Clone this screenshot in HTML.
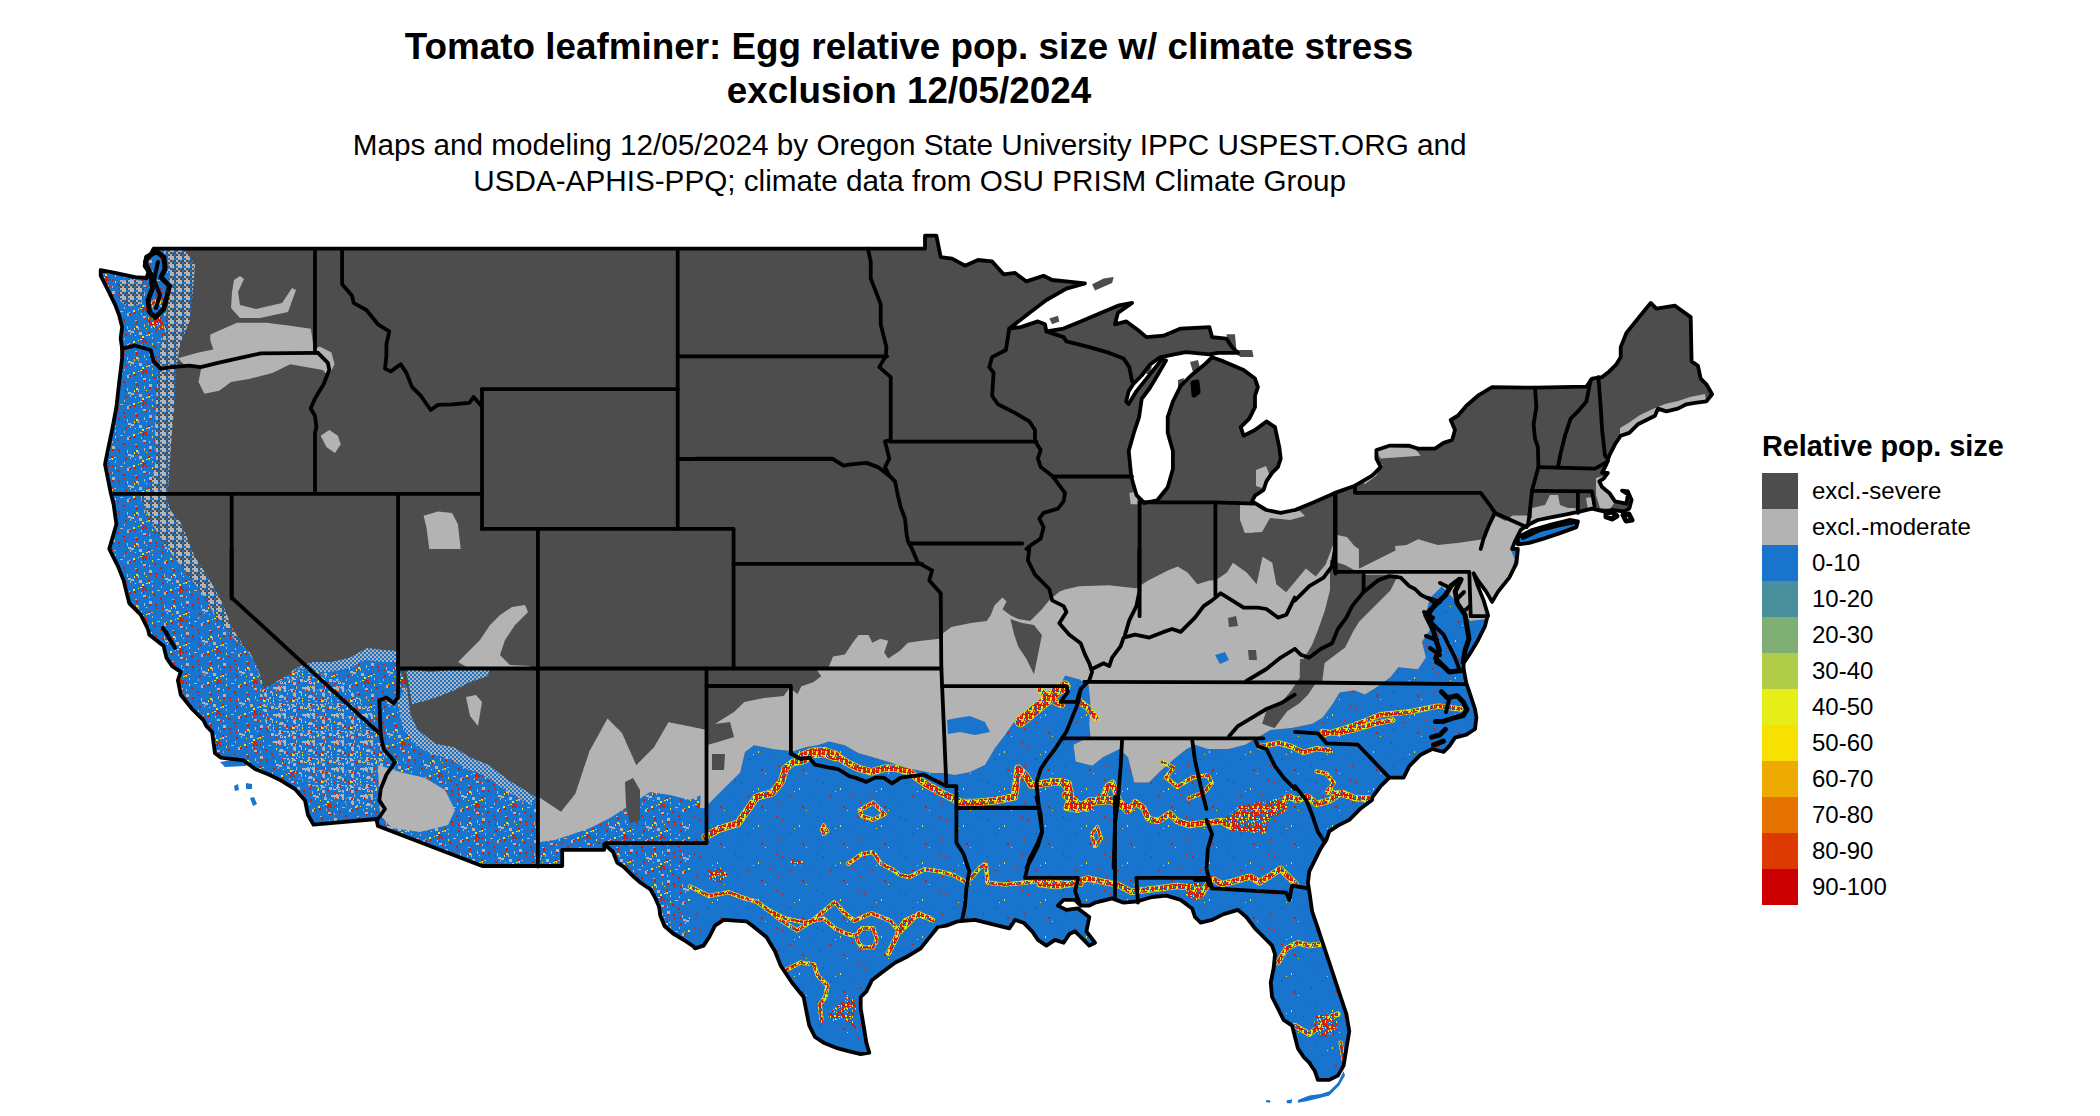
<!DOCTYPE html>
<html><head><meta charset="utf-8"><style>
html,body{margin:0;padding:0;background:#fff;}
body{width:2100px;height:1116px;position:relative;overflow:hidden;font-family:"Liberation Sans",sans-serif;}
</style></head><body>
<svg width="2100" height="1116" viewBox="0 0 2100 1116" style="position:absolute;left:0;top:0"><defs><pattern id="bspeck" width="37" height="31" patternUnits="userSpaceOnUse"><rect width="37" height="31" fill="#1874cd"/><rect x="8" y="18" width="1" height="2" fill="#d41a00"/><rect x="7" y="15" width="2" height="2" fill="#d41a00"/><rect x="24" y="25" width="1" height="1" fill="#d41a00"/><rect x="31" y="0" width="2" height="2" fill="#d41a00"/><rect x="0" y="22" width="2" height="2" fill="#d41a00"/><rect x="14" y="18" width="1" height="2" fill="#d41a00"/><rect x="1" y="0" width="1" height="2" fill="#d41a00"/><rect x="34" y="0" width="2" height="2" fill="#d41a00"/><rect x="13" y="13" width="2" height="1" fill="#d41a00"/><rect x="33" y="7" width="2" height="2" fill="#d41a00"/><rect x="35" y="7" width="2" height="1" fill="#d41a00"/><rect x="14" y="24" width="2" height="2" fill="#d41a00"/><rect x="1" y="13" width="2" height="2" fill="#d41a00"/><rect x="6" y="5" width="2" height="2" fill="#d41a00"/><rect x="18" y="3" width="2" height="2" fill="#d41a00"/><rect x="32" y="29" width="2" height="2" fill="#d41a00"/><rect x="12" y="9" width="2" height="2" fill="#d41a00"/><rect x="31" y="27" width="2" height="2" fill="#d41a00"/><rect x="2" y="15" width="1" height="2" fill="#d41a00"/><rect x="25" y="13" width="2" height="1" fill="#d41a00"/><rect x="23" y="17" width="2" height="2" fill="#d41a00"/><rect x="23" y="2" width="2" height="2" fill="#d41a00"/><rect x="32" y="3" width="1" height="2" fill="#d41a00"/><rect x="25" y="11" width="2" height="2" fill="#d41a00"/><rect x="1" y="15" width="1" height="2" fill="#d41a00"/><rect x="25" y="20" width="1" height="1" fill="#d41a00"/><rect x="32" y="7" width="1" height="1" fill="#d41a00"/><rect x="34" y="29" width="2" height="1" fill="#d41a00"/><rect x="25" y="16" width="2" height="2" fill="#e8e418"/><rect x="29" y="29" width="2" height="1" fill="#e8e418"/><rect x="24" y="25" width="1" height="1" fill="#e8e418"/><rect x="27" y="30" width="1" height="2" fill="#e8e418"/><rect x="23" y="18" width="1" height="2" fill="#e8e418"/><rect x="31" y="26" width="2" height="2" fill="#e8e418"/><rect x="22" y="0" width="2" height="2" fill="#e8e418"/><rect x="1" y="25" width="1" height="1" fill="#e8e418"/><rect x="35" y="18" width="1" height="1" fill="#e8e418"/><rect x="35" y="25" width="2" height="1" fill="#e8e418"/><rect x="4" y="2" width="1" height="2" fill="#e8e418"/><rect x="0" y="24" width="2" height="1" fill="#e8e418"/><rect x="17" y="3" width="1" height="2" fill="#e8e418"/><rect x="18" y="2" width="1" height="1" fill="#e8e418"/><rect x="16" y="16" width="1" height="3" fill="#b3b3b3"/><rect x="17" y="20" width="3" height="2" fill="#b3b3b3"/><rect x="29" y="22" width="2" height="2" fill="#b3b3b3"/><rect x="30" y="3" width="1" height="2" fill="#b3b3b3"/><rect x="24" y="10" width="2" height="1" fill="#b3b3b3"/><rect x="16" y="3" width="2" height="3" fill="#b3b3b3"/><rect x="32" y="6" width="3" height="2" fill="#b3b3b3"/><rect x="1" y="7" width="1" height="2" fill="#b3b3b3"/><rect x="9" y="1" width="3" height="1" fill="#b3b3b3"/><rect x="28" y="22" width="3" height="3" fill="#b3b3b3"/><rect x="27" y="17" width="1" height="3" fill="#b3b3b3"/><rect x="33" y="14" width="1" height="3" fill="#b3b3b3"/><rect x="1" y="12" width="3" height="3" fill="#b3b3b3"/><rect x="20" y="21" width="3" height="2" fill="#b3b3b3"/><rect x="3" y="23" width="2" height="1" fill="#b3b3b3"/><rect x="13" y="28" width="1" height="2" fill="#b3b3b3"/><rect x="4" y="27" width="1" height="2" fill="#b3b3b3"/><rect x="19" y="23" width="1" height="2" fill="#b3b3b3"/></pattern><pattern id="bspeck2" width="41" height="37" patternUnits="userSpaceOnUse"><rect width="41" height="37" fill="#1874cd"/><rect x="3" y="5" width="1" height="2" fill="#d41a00"/><rect x="10" y="19" width="2" height="1" fill="#d41a00"/><rect x="38" y="2" width="1" height="2" fill="#d41a00"/><rect x="40" y="25" width="2" height="2" fill="#d41a00"/><rect x="32" y="17" width="1" height="1" fill="#d41a00"/><rect x="23" y="29" width="2" height="2" fill="#d41a00"/><rect x="27" y="33" width="1" height="1" fill="#e8e418"/><rect x="15" y="14" width="1" height="1" fill="#e8e418"/><rect x="20" y="11" width="1" height="2" fill="#e8e418"/></pattern><pattern id="mixgbd" width="8" height="8" patternUnits="userSpaceOnUse"><rect x="0" y="0" width="2" height="2" fill="#b3b3b3"/><rect x="2" y="0" width="2" height="2" fill="#b3b3b3"/><rect x="4" y="0" width="2" height="2" fill="#b3b3b3"/><rect x="6" y="0" width="2" height="2" fill="#4d4d4d"/><rect x="0" y="2" width="2" height="2" fill="#1874cd"/><rect x="2" y="2" width="2" height="2" fill="#b3b3b3"/><rect x="4" y="2" width="2" height="2" fill="#b3b3b3"/><rect x="6" y="2" width="2" height="2" fill="#1874cd"/><rect x="0" y="4" width="2" height="2" fill="#b3b3b3"/><rect x="2" y="4" width="2" height="2" fill="#4d4d4d"/><rect x="4" y="4" width="2" height="2" fill="#1874cd"/><rect x="6" y="4" width="2" height="2" fill="#4d4d4d"/><rect x="0" y="6" width="2" height="2" fill="#4d4d4d"/><rect x="2" y="6" width="2" height="2" fill="#b3b3b3"/><rect x="4" y="6" width="2" height="2" fill="#4d4d4d"/><rect x="6" y="6" width="2" height="2" fill="#1874cd"/></pattern><pattern id="mixgb2" width="29" height="27" patternUnits="userSpaceOnUse"><rect width="29" height="27" fill="#1874cd"/><rect x="10" y="4" width="2" height="3" fill="#b3b3b3"/><rect x="1" y="2" width="3" height="1" fill="#b3b3b3"/><rect x="11" y="18" width="1" height="3" fill="#b3b3b3"/><rect x="6" y="1" width="1" height="2" fill="#b3b3b3"/><rect x="13" y="2" width="1" height="1" fill="#b3b3b3"/><rect x="17" y="13" width="1" height="3" fill="#b3b3b3"/><rect x="3" y="7" width="3" height="3" fill="#b3b3b3"/><rect x="18" y="1" width="3" height="3" fill="#b3b3b3"/><rect x="12" y="1" width="1" height="1" fill="#b3b3b3"/><rect x="17" y="4" width="2" height="2" fill="#b3b3b3"/><rect x="4" y="17" width="1" height="3" fill="#b3b3b3"/><rect x="9" y="17" width="3" height="1" fill="#b3b3b3"/><rect x="3" y="18" width="3" height="3" fill="#b3b3b3"/><rect x="6" y="11" width="1" height="3" fill="#b3b3b3"/><rect x="22" y="2" width="3" height="1" fill="#b3b3b3"/><rect x="19" y="6" width="2" height="3" fill="#b3b3b3"/><rect x="17" y="13" width="2" height="2" fill="#b3b3b3"/><rect x="18" y="14" width="2" height="2" fill="#b3b3b3"/><rect x="7" y="25" width="1" height="3" fill="#b3b3b3"/><rect x="24" y="7" width="1" height="3" fill="#b3b3b3"/><rect x="9" y="16" width="2" height="2" fill="#b3b3b3"/><rect x="23" y="14" width="2" height="3" fill="#b3b3b3"/><rect x="2" y="3" width="3" height="2" fill="#b3b3b3"/><rect x="5" y="24" width="2" height="1" fill="#b3b3b3"/><rect x="15" y="13" width="1" height="3" fill="#b3b3b3"/><rect x="2" y="24" width="3" height="3" fill="#b3b3b3"/><rect x="25" y="26" width="2" height="2" fill="#b3b3b3"/><rect x="22" y="11" width="3" height="2" fill="#b3b3b3"/><rect x="18" y="25" width="2" height="1" fill="#b3b3b3"/><rect x="26" y="2" width="2" height="2" fill="#b3b3b3"/><rect x="22" y="21" width="1" height="1" fill="#b3b3b3"/><rect x="23" y="22" width="2" height="3" fill="#b3b3b3"/><rect x="18" y="21" width="2" height="2" fill="#b3b3b3"/><rect x="22" y="12" width="3" height="2" fill="#b3b3b3"/><rect x="0" y="14" width="2" height="1" fill="#b3b3b3"/><rect x="19" y="3" width="2" height="1" fill="#b3b3b3"/><rect x="6" y="24" width="2" height="1" fill="#b3b3b3"/><rect x="23" y="7" width="2" height="2" fill="#b3b3b3"/><rect x="27" y="15" width="1" height="1" fill="#b3b3b3"/><rect x="14" y="12" width="3" height="2" fill="#b3b3b3"/><rect x="28" y="4" width="2" height="3" fill="#b3b3b3"/><rect x="8" y="22" width="2" height="2" fill="#b3b3b3"/><rect x="21" y="12" width="1" height="1" fill="#b3b3b3"/><rect x="2" y="5" width="1" height="1" fill="#b3b3b3"/><rect x="21" y="7" width="1" height="2" fill="#b3b3b3"/><rect x="26" y="18" width="1" height="2" fill="#b3b3b3"/><rect x="9" y="0" width="1" height="2" fill="#b3b3b3"/><rect x="17" y="11" width="3" height="3" fill="#b3b3b3"/><rect x="10" y="4" width="3" height="3" fill="#b3b3b3"/><rect x="19" y="20" width="3" height="3" fill="#b3b3b3"/><rect x="1" y="14" width="3" height="3" fill="#b3b3b3"/><rect x="12" y="12" width="2" height="2" fill="#b3b3b3"/><rect x="3" y="15" width="3" height="2" fill="#b3b3b3"/><rect x="1" y="6" width="1" height="1" fill="#b3b3b3"/><rect x="14" y="5" width="1" height="2" fill="#b3b3b3"/><rect x="19" y="1" width="1" height="1" fill="#b3b3b3"/><rect x="18" y="4" width="3" height="1" fill="#b3b3b3"/><rect x="11" y="19" width="1" height="1" fill="#b3b3b3"/><rect x="27" y="6" width="3" height="2" fill="#b3b3b3"/><rect x="4" y="20" width="2" height="2" fill="#b3b3b3"/><rect x="19" y="11" width="2" height="1" fill="#d41a00"/><rect x="3" y="15" width="2" height="2" fill="#d41a00"/><rect x="15" y="9" width="1" height="1" fill="#d41a00"/><rect x="3" y="23" width="2" height="2" fill="#d41a00"/><rect x="15" y="26" width="1" height="1" fill="#d41a00"/><rect x="6" y="16" width="2" height="1" fill="#d41a00"/><rect x="22" y="17" width="1" height="2" fill="#d41a00"/><rect x="20" y="2" width="2" height="2" fill="#d41a00"/><rect x="5" y="11" width="1" height="2" fill="#d41a00"/><rect x="20" y="7" width="1" height="1" fill="#d41a00"/><rect x="26" y="12" width="1" height="1" fill="#d41a00"/><rect x="16" y="15" width="2" height="1" fill="#d41a00"/><rect x="0" y="25" width="2" height="2" fill="#d41a00"/><rect x="8" y="6" width="2" height="2" fill="#d41a00"/><rect x="25" y="23" width="2" height="2" fill="#d41a00"/><rect x="2" y="7" width="1" height="1" fill="#d41a00"/><rect x="15" y="6" width="2" height="1" fill="#e8e418"/><rect x="15" y="19" width="1" height="2" fill="#e8e418"/><rect x="20" y="11" width="1" height="1" fill="#e8e418"/><rect x="12" y="25" width="1" height="2" fill="#e8e418"/><rect x="28" y="5" width="2" height="2" fill="#e8e418"/><rect x="2" y="25" width="2" height="2" fill="#e8e418"/><rect x="12" y="23" width="1" height="1" fill="#e8e418"/><rect x="5" y="4" width="1" height="1" fill="#e8e418"/></pattern><pattern id="rspeck2" width="11" height="11" patternUnits="userSpaceOnUse"><rect width="11" height="11" fill="#1874cd"/><rect x="3" y="4" width="1" height="2" fill="#d41a00"/><rect x="6" y="7" width="1" height="1" fill="#d41a00"/><rect x="1" y="0" width="2" height="2" fill="#d41a00"/><rect x="4" y="0" width="1" height="2" fill="#d41a00"/><rect x="8" y="5" width="2" height="1" fill="#d41a00"/><rect x="1" y="4" width="1" height="1" fill="#d41a00"/><rect x="10" y="4" width="2" height="1" fill="#d41a00"/><rect x="2" y="4" width="2" height="2" fill="#d41a00"/><rect x="5" y="1" width="2" height="2" fill="#d41a00"/><rect x="10" y="6" width="2" height="1" fill="#d41a00"/><rect x="2" y="3" width="2" height="2" fill="#d41a00"/><rect x="1" y="8" width="2" height="1" fill="#d41a00"/><rect x="4" y="9" width="2" height="2" fill="#d41a00"/><rect x="8" y="3" width="2" height="2" fill="#d41a00"/><rect x="9" y="4" width="2" height="2" fill="#d41a00"/><rect x="2" y="3" width="2" height="2" fill="#d41a00"/><rect x="0" y="1" width="1" height="2" fill="#d41a00"/><rect x="10" y="4" width="2" height="2" fill="#d41a00"/><rect x="10" y="7" width="2" height="2" fill="#d41a00"/><rect x="2" y="10" width="1" height="1" fill="#d41a00"/><rect x="6" y="3" width="2" height="2" fill="#d41a00"/><rect x="7" y="4" width="1" height="2" fill="#d41a00"/><rect x="6" y="9" width="2" height="2" fill="#d41a00"/><rect x="8" y="3" width="2" height="1" fill="#d41a00"/><rect x="0" y="3" width="2" height="2" fill="#d41a00"/><rect x="9" y="3" width="1" height="2" fill="#d41a00"/><rect x="2" y="4" width="2" height="1" fill="#d41a00"/><rect x="0" y="5" width="2" height="1" fill="#d41a00"/><rect x="4" y="10" width="2" height="1" fill="#d41a00"/><rect x="5" y="4" width="2" height="1" fill="#d41a00"/><rect x="10" y="6" width="1" height="2" fill="#e8e418"/><rect x="9" y="3" width="2" height="2" fill="#e8e418"/><rect x="2" y="4" width="2" height="1" fill="#e8e418"/><rect x="5" y="9" width="1" height="2" fill="#e8e418"/><rect x="0" y="7" width="1" height="2" fill="#e8e418"/><rect x="5" y="4" width="1" height="2" fill="#e8e418"/><rect x="3" y="6" width="1" height="1" fill="#e8e418"/><rect x="0" y="0" width="1" height="1" fill="#e8e418"/><rect x="9" y="10" width="1" height="1" fill="#e8e418"/><rect x="8" y="7" width="1" height="2" fill="#e8e418"/></pattern><pattern id="rspeck" width="9" height="9" patternUnits="userSpaceOnUse"><rect width="9" height="9" fill="#d41a00"/><rect x="3" y="8" width="1" height="2" fill="#e8e418"/><rect x="7" y="1" width="1" height="2" fill="#e8e418"/><rect x="4" y="8" width="1" height="1" fill="#e8e418"/><rect x="7" y="8" width="2" height="2" fill="#e8e418"/><rect x="2" y="3" width="1" height="2" fill="#e8e418"/><rect x="0" y="1" width="1" height="1" fill="#e8e418"/><rect x="4" y="0" width="2" height="2" fill="#e8e418"/><rect x="6" y="6" width="2" height="2" fill="#e8e418"/><rect x="2" y="5" width="1" height="1" fill="#e8e418"/><rect x="2" y="7" width="1" height="2" fill="#e8e418"/><rect x="6" y="4" width="2" height="2" fill="#e8e418"/><rect x="5" y="8" width="2" height="1" fill="#e8e418"/><rect x="5" y="0" width="2" height="1" fill="#e8e418"/><rect x="5" y="8" width="1" height="1" fill="#e8e418"/><rect x="4" y="4" width="1" height="1" fill="#1874cd"/><rect x="7" y="7" width="1" height="2" fill="#1874cd"/><rect x="1" y="6" width="1" height="1" fill="#1874cd"/><rect x="4" y="6" width="2" height="1" fill="#1874cd"/><rect x="0" y="0" width="2" height="2" fill="#1874cd"/><rect x="8" y="4" width="1" height="1" fill="#1874cd"/><rect x="4" y="0" width="1" height="1" fill="#7faf74"/><rect x="8" y="0" width="1" height="1" fill="#7faf74"/><rect x="4" y="4" width="1" height="1" fill="#7faf74"/></pattern><pattern id="mixgb" width="4" height="4" patternUnits="userSpaceOnUse"><rect width="4" height="4" fill="#b3b3b3"/><rect width="2" height="2" fill="#1874cd"/><rect x="2" y="2" width="2" height="2" fill="#1874cd"/></pattern><clipPath id="land"><path d="M109.3,548.9 L116.4,524.3 L113.6,504.3 L110.7,492.9 L107.9,478.6 L105,464.3 L107.9,450 L112.1,430 L116.4,407.1 L119.3,381.4 L122.1,358.6 L122.1,348.6 L120.7,338.6 L122.1,327.1 L119.3,315.7 L115,304.3 L107.9,290 L100.7,275.7 L100.7,270 L115,272.9 L135,277.1 L146.4,278 L149.3,270 L145,261.4 L149.3,257.1 L153.6,248.6 L695,248.6 L925,248.6 L925,235.7 L936.4,235.7 L940.7,257.1 L952.1,258.6 L965,265.7 L977.9,260 L992.1,261.4 L1003.6,274.3 L1015,272.9 L1026.4,281.4 L1043.6,275.7 L1052.1,280 L1066.4,281.4 L1085,283.4 L1066.4,288.6 L1046.4,300 L1029.3,312.9 L1009.3,328.6 L1020.7,327.1 L1037.9,321.4 L1045,324.3 L1046.4,331.4 L1063.6,328.6 L1080.7,321.4 L1100.7,312.9 L1117.9,305.7 L1132.1,302.9 L1117.9,312.9 L1115,324.3 L1126.4,321.4 L1137.9,330 L1146.4,337.1 L1163.6,335.7 L1180.7,328.6 L1209.3,327.1 L1212.1,337.1 L1226.4,338.6 L1232.1,347.1 L1237.9,352.9 L1217.9,352.9 L1209.3,354.3 L1185.9,352.1 L1172.9,354.7 L1159.9,357.3 L1149.5,365.1 L1141.7,375.5 L1133.9,383.3 L1128.7,391.1 L1126.1,401.5 L1128.7,404.1 L1136.5,391.1 L1146.9,378.1 L1157.3,365.1 L1162.5,358.5 L1166,360.5 L1157.3,375.5 L1149.5,388.5 L1141.7,398.9 L1139.1,417.1 L1133.9,432.7 L1128.7,450.9 L1131.3,476.9 L1136.5,495.1 L1144.3,502.9 L1157.3,500.3 L1167.7,487.3 L1172.9,469.1 L1172.9,450.9 L1167.7,432.7 L1167.7,417.1 L1172.9,401.5 L1180.7,385.9 L1191.1,375.5 L1204,365.1 L1211.9,357.3 L1223.6,361.4 L1243.6,370 L1255,378.6 L1257.9,387.1 L1255,395.7 L1255,407.1 L1249.3,418.6 L1240.7,427.1 L1243.6,435.7 L1255,430 L1266.4,421.4 L1275,427.1 L1279.3,447.1 L1280.7,458.6 L1277.9,467.1 L1272.1,472.9 L1266.4,481.4 L1263.6,490 L1255,495.7 L1252.1,501.4 L1266.4,510 L1280.7,512.9 L1294.7,510 L1295,510 L1312.1,502.9 L1335,492.9 L1355,485.7 L1372.1,475.7 L1380.7,467.1 L1376.4,458.6 L1376.4,450 L1389.3,445.7 L1409.3,445.7 L1417.9,448.6 L1435,448.6 L1443.6,442.9 L1452.1,440 L1455,430 L1450.7,420 L1457.9,415.7 L1466.4,405.7 L1477.9,395.7 L1492.1,387.1 L1535,387.7 L1586.4,386.6 L1592.1,378.6 L1602.1,377.1 L1609.3,371.4 L1616.4,364.3 L1620.7,357.1 L1620.7,347.1 L1626.4,332.9 L1637.9,318.6 L1650.7,302.9 L1656.4,308.6 L1675,305.7 L1690.7,317.1 L1691.6,361.4 L1697.9,365.7 L1700.7,378.6 L1706.4,384.3 L1712.1,394.3 L1706.4,401.4 L1695,402.9 L1686.4,404.3 L1677.9,408.6 L1666.4,411.4 L1657.9,408.6 L1655,415.7 L1637.9,424.3 L1629.3,432.9 L1620.7,435.7 L1615,444.3 L1609.3,455.7 L1606.4,464.3 L1602.1,472.9 L1607.9,472.9 L1603.6,478.6 L1599.3,481.4 L1602.1,487.1 L1609.3,492.9 L1615,501.4 L1626.4,503.7 L1627.9,494.3 L1622.1,490.6 L1627.9,491.4 L1631.6,500 L1629.3,508.6 L1623.6,511.4 L1612.1,510 L1603.6,511.4 L1592.1,508.6 L1580.7,511.4 L1566.4,514.3 L1552.1,517.1 L1537.9,520 L1526.4,525.7 L1520.7,530 L1515,541.4 L1512.1,548.9 L1517.9,549 L1516.4,563.3 L1509.3,577.6 L1497.9,591.9 L1492.1,601.9 L1486.4,591.9 L1477.9,580.4 L1473.6,573.3 L1477.9,586.1 L1483.6,600.4 L1487.9,614.7 L1485,626.1 L1477.9,640.4 L1469.3,654.7 L1463.6,663.3 L1463.6,669 L1466.4,683.3 L1469.3,691.9 L1475,709 L1476.4,717.6 L1475,729 L1466.4,734.7 L1455,737.6 L1449.3,746.1 L1443.6,751.9 L1432.1,749 L1420.7,754.7 L1409.3,766.1 L1403.6,777.6 L1389.3,777.6 L1380.7,786.1 L1372.1,797.6 L1372.1,799.9 L1360.7,808.4 L1349.3,819.9 L1337.9,825.6 L1329.3,831.3 L1326.4,839.9 L1320.7,848.4 L1315,859.9 L1309.3,871.3 L1307.9,882.7 L1309.3,891.3 L1312.1,911.3 L1317.9,928.4 L1323.6,945.6 L1329.3,962.7 L1335,979.9 L1340.7,997 L1346.4,1014.1 L1349.3,1031.3 L1346.4,1048.4 L1343.6,1065.6 L1337.9,1075.6 L1329.3,1079.9 L1317.9,1079.9 L1315,1071.3 L1309.3,1062.7 L1303.6,1057 L1297.9,1048.4 L1295,1037 L1292.1,1025.6 L1283.6,1019.9 L1277.9,1008.4 L1272.1,997 L1270.7,982.7 L1273.6,968.4 L1275,954.1 L1272.1,945.6 L1263.6,937 L1255,928.4 L1246.4,917 L1237.9,909.9 L1223.6,914.1 L1212.1,919.9 L1200.7,922.7 L1195,917 L1192.1,908.4 L1180.7,899.9 L1166.4,895.6 L1152.1,897 L1137.9,901.3 L1123.6,902.7 L1112.1,898.4 L1106.4,899.9 L1095,902.7 L1089.3,905.6 L1080.7,905.6 L1075,899.9 L1063.6,899.9 L1057.9,905.6 L1066.4,909.9 L1077.9,908.4 L1089.3,917 L1086.4,931.3 L1095,942.7 L1089.3,945.6 L1080.7,937 L1075,931.3 L1069.3,934.1 L1063.6,942.7 L1055,939.9 L1046.4,945.6 L1037.9,939.9 L1032.1,931.3 L1023.6,922.7 L1015,919.9 L1009.3,928.4 L992.1,924.1 L975,919.9 L957.9,921.3 L946.4,925.6 L937.9,927 L932.1,934.1 L920.7,948.4 L906.4,957 L895,962.7 L883.6,971.3 L872.1,979.9 L866.4,991.3 L860.7,997 L860.7,1008.4 L863.6,1025.6 L866.4,1042.7 L869.3,1052.7 L860.7,1054.1 L849.3,1051.3 L837.9,1048.4 L823.6,1042.7 L815,1037 L809.3,1025.6 L806.4,1011.3 L803.6,997 L792.1,982.7 L780.7,965.6 L775,951.3 L766.4,937 L752.1,925.6 L746.4,921.3 L723.6,919.9 L715,925.6 L709.3,937 L703.6,945.6 L695,948.4 L693.5,946.5 L683.9,940 L673.1,933.5 L664.5,926 L660.2,915.3 L659.1,906.7 L654.8,897 L650.5,889.5 L640.9,883 L632.3,875.5 L623.7,866.9 L617.2,862.6 L612.9,851.8 L604.3,844.3 L604.2,849.8 L562.2,849.8 L562.2,866 L537.4,866 L482.1,866 L377.9,826.1 L376.4,819 L313.6,824.7 L313.6,824.7 L307.9,814.7 L305,800.4 L295,789 L280.7,780.4 L269.3,774.7 L255,769 L243.6,760.4 L220.7,757.6 L215,753.3 L213.6,743.3 L212.1,731.9 L206.4,726.1 L203.6,720.4 L192.1,709 L180.7,694.7 L177.9,680.4 L180.7,671.9 L172.1,666.1 L166.4,657.6 L163.6,646.1 L149.3,634.7 L147.9,629 L140.7,614.7 L129.3,603.3 L126.4,591.9 L123.6,580.4 L117.9,566.1 L112.1,554.7 L109.3,549Z M1517.9,537.1 L1532.1,530 L1552.1,524.3 L1569.3,520 L1577.9,521.4 L1576.4,527.1 L1560.7,532.9 L1543.6,538.6 L1529.3,542.9 L1517.9,544.3Z"/></clipPath></defs><path d="M109.3,548.9 L116.4,524.3 L113.6,504.3 L110.7,492.9 L107.9,478.6 L105,464.3 L107.9,450 L112.1,430 L116.4,407.1 L119.3,381.4 L122.1,358.6 L122.1,348.6 L120.7,338.6 L122.1,327.1 L119.3,315.7 L115,304.3 L107.9,290 L100.7,275.7 L100.7,270 L115,272.9 L135,277.1 L146.4,278 L149.3,270 L145,261.4 L149.3,257.1 L153.6,248.6 L695,248.6 L925,248.6 L925,235.7 L936.4,235.7 L940.7,257.1 L952.1,258.6 L965,265.7 L977.9,260 L992.1,261.4 L1003.6,274.3 L1015,272.9 L1026.4,281.4 L1043.6,275.7 L1052.1,280 L1066.4,281.4 L1085,283.4 L1066.4,288.6 L1046.4,300 L1029.3,312.9 L1009.3,328.6 L1020.7,327.1 L1037.9,321.4 L1045,324.3 L1046.4,331.4 L1063.6,328.6 L1080.7,321.4 L1100.7,312.9 L1117.9,305.7 L1132.1,302.9 L1117.9,312.9 L1115,324.3 L1126.4,321.4 L1137.9,330 L1146.4,337.1 L1163.6,335.7 L1180.7,328.6 L1209.3,327.1 L1212.1,337.1 L1226.4,338.6 L1232.1,347.1 L1237.9,352.9 L1217.9,352.9 L1209.3,354.3 L1185.9,352.1 L1172.9,354.7 L1159.9,357.3 L1149.5,365.1 L1141.7,375.5 L1133.9,383.3 L1128.7,391.1 L1126.1,401.5 L1128.7,404.1 L1136.5,391.1 L1146.9,378.1 L1157.3,365.1 L1162.5,358.5 L1166,360.5 L1157.3,375.5 L1149.5,388.5 L1141.7,398.9 L1139.1,417.1 L1133.9,432.7 L1128.7,450.9 L1131.3,476.9 L1136.5,495.1 L1144.3,502.9 L1157.3,500.3 L1167.7,487.3 L1172.9,469.1 L1172.9,450.9 L1167.7,432.7 L1167.7,417.1 L1172.9,401.5 L1180.7,385.9 L1191.1,375.5 L1204,365.1 L1211.9,357.3 L1223.6,361.4 L1243.6,370 L1255,378.6 L1257.9,387.1 L1255,395.7 L1255,407.1 L1249.3,418.6 L1240.7,427.1 L1243.6,435.7 L1255,430 L1266.4,421.4 L1275,427.1 L1279.3,447.1 L1280.7,458.6 L1277.9,467.1 L1272.1,472.9 L1266.4,481.4 L1263.6,490 L1255,495.7 L1252.1,501.4 L1266.4,510 L1280.7,512.9 L1294.7,510 L1295,510 L1312.1,502.9 L1335,492.9 L1355,485.7 L1372.1,475.7 L1380.7,467.1 L1376.4,458.6 L1376.4,450 L1389.3,445.7 L1409.3,445.7 L1417.9,448.6 L1435,448.6 L1443.6,442.9 L1452.1,440 L1455,430 L1450.7,420 L1457.9,415.7 L1466.4,405.7 L1477.9,395.7 L1492.1,387.1 L1535,387.7 L1586.4,386.6 L1592.1,378.6 L1602.1,377.1 L1609.3,371.4 L1616.4,364.3 L1620.7,357.1 L1620.7,347.1 L1626.4,332.9 L1637.9,318.6 L1650.7,302.9 L1656.4,308.6 L1675,305.7 L1690.7,317.1 L1691.6,361.4 L1697.9,365.7 L1700.7,378.6 L1706.4,384.3 L1712.1,394.3 L1706.4,401.4 L1695,402.9 L1686.4,404.3 L1677.9,408.6 L1666.4,411.4 L1657.9,408.6 L1655,415.7 L1637.9,424.3 L1629.3,432.9 L1620.7,435.7 L1615,444.3 L1609.3,455.7 L1606.4,464.3 L1602.1,472.9 L1607.9,472.9 L1603.6,478.6 L1599.3,481.4 L1602.1,487.1 L1609.3,492.9 L1615,501.4 L1626.4,503.7 L1627.9,494.3 L1622.1,490.6 L1627.9,491.4 L1631.6,500 L1629.3,508.6 L1623.6,511.4 L1612.1,510 L1603.6,511.4 L1592.1,508.6 L1580.7,511.4 L1566.4,514.3 L1552.1,517.1 L1537.9,520 L1526.4,525.7 L1520.7,530 L1515,541.4 L1512.1,548.9 L1517.9,549 L1516.4,563.3 L1509.3,577.6 L1497.9,591.9 L1492.1,601.9 L1486.4,591.9 L1477.9,580.4 L1473.6,573.3 L1477.9,586.1 L1483.6,600.4 L1487.9,614.7 L1485,626.1 L1477.9,640.4 L1469.3,654.7 L1463.6,663.3 L1463.6,669 L1466.4,683.3 L1469.3,691.9 L1475,709 L1476.4,717.6 L1475,729 L1466.4,734.7 L1455,737.6 L1449.3,746.1 L1443.6,751.9 L1432.1,749 L1420.7,754.7 L1409.3,766.1 L1403.6,777.6 L1389.3,777.6 L1380.7,786.1 L1372.1,797.6 L1372.1,799.9 L1360.7,808.4 L1349.3,819.9 L1337.9,825.6 L1329.3,831.3 L1326.4,839.9 L1320.7,848.4 L1315,859.9 L1309.3,871.3 L1307.9,882.7 L1309.3,891.3 L1312.1,911.3 L1317.9,928.4 L1323.6,945.6 L1329.3,962.7 L1335,979.9 L1340.7,997 L1346.4,1014.1 L1349.3,1031.3 L1346.4,1048.4 L1343.6,1065.6 L1337.9,1075.6 L1329.3,1079.9 L1317.9,1079.9 L1315,1071.3 L1309.3,1062.7 L1303.6,1057 L1297.9,1048.4 L1295,1037 L1292.1,1025.6 L1283.6,1019.9 L1277.9,1008.4 L1272.1,997 L1270.7,982.7 L1273.6,968.4 L1275,954.1 L1272.1,945.6 L1263.6,937 L1255,928.4 L1246.4,917 L1237.9,909.9 L1223.6,914.1 L1212.1,919.9 L1200.7,922.7 L1195,917 L1192.1,908.4 L1180.7,899.9 L1166.4,895.6 L1152.1,897 L1137.9,901.3 L1123.6,902.7 L1112.1,898.4 L1106.4,899.9 L1095,902.7 L1089.3,905.6 L1080.7,905.6 L1075,899.9 L1063.6,899.9 L1057.9,905.6 L1066.4,909.9 L1077.9,908.4 L1089.3,917 L1086.4,931.3 L1095,942.7 L1089.3,945.6 L1080.7,937 L1075,931.3 L1069.3,934.1 L1063.6,942.7 L1055,939.9 L1046.4,945.6 L1037.9,939.9 L1032.1,931.3 L1023.6,922.7 L1015,919.9 L1009.3,928.4 L992.1,924.1 L975,919.9 L957.9,921.3 L946.4,925.6 L937.9,927 L932.1,934.1 L920.7,948.4 L906.4,957 L895,962.7 L883.6,971.3 L872.1,979.9 L866.4,991.3 L860.7,997 L860.7,1008.4 L863.6,1025.6 L866.4,1042.7 L869.3,1052.7 L860.7,1054.1 L849.3,1051.3 L837.9,1048.4 L823.6,1042.7 L815,1037 L809.3,1025.6 L806.4,1011.3 L803.6,997 L792.1,982.7 L780.7,965.6 L775,951.3 L766.4,937 L752.1,925.6 L746.4,921.3 L723.6,919.9 L715,925.6 L709.3,937 L703.6,945.6 L695,948.4 L693.5,946.5 L683.9,940 L673.1,933.5 L664.5,926 L660.2,915.3 L659.1,906.7 L654.8,897 L650.5,889.5 L640.9,883 L632.3,875.5 L623.7,866.9 L617.2,862.6 L612.9,851.8 L604.3,844.3 L604.2,849.8 L562.2,849.8 L562.2,866 L537.4,866 L482.1,866 L377.9,826.1 L376.4,819 L313.6,824.7 L313.6,824.7 L307.9,814.7 L305,800.4 L295,789 L280.7,780.4 L269.3,774.7 L255,769 L243.6,760.4 L220.7,757.6 L215,753.3 L213.6,743.3 L212.1,731.9 L206.4,726.1 L203.6,720.4 L192.1,709 L180.7,694.7 L177.9,680.4 L180.7,671.9 L172.1,666.1 L166.4,657.6 L163.6,646.1 L149.3,634.7 L147.9,629 L140.7,614.7 L129.3,603.3 L126.4,591.9 L123.6,580.4 L117.9,566.1 L112.1,554.7 L109.3,549Z" fill="#4d4d4d"/><path d="M1517.9,537.1 L1532.1,530 L1552.1,524.3 L1569.3,520 L1577.9,521.4 L1576.4,527.1 L1560.7,532.9 L1543.6,538.6 L1529.3,542.9 L1517.9,544.3Z" fill="#4d4d4d"/><path d="M1092.1,284.3 L1103.6,278.6 L1113.6,277.1 L1112.1,282.9 L1095,290.6Z" fill="#4d4d4d"/><path d="M1049.3,318.6 L1057.9,315.7 L1059.3,321.4 L1052.1,324.3Z" fill="#4d4d4d"/><path d="M1226.4,334.3 L1235,334.3 L1236.4,350 L1252.1,350 L1253.6,357.1 L1240.7,357.1 L1229.3,350Z" fill="#4d4d4d"/><path d="M1190,362 L1198,360 L1200,368 L1193,372Z" fill="#4d4d4d"/><path d="M1178,380 L1184,378 L1183,386 L1178,388Z" fill="#4d4d4d"/><path d="M1148,368 L1152,366 L1150,374 L1146,374Z" fill="#4d4d4d"/><path d="M220,762 L232,760 L248,762 L246,766 L225,767Z" fill="#1874cd"/><path d="M234,786 L238,784 L239,790 L235,791Z" fill="#1874cd"/><path d="M246,783 L252,784 L252,789 L246,789Z" fill="#1874cd"/><path d="M250,798 L254,797 L257,804 L253,806Z" fill="#1874cd"/><path d="M1266.4,1099.9 L1270.7,1100.4 L1269.9,1102.7 L1265.9,1102.1Z" fill="#1874cd"/><path d="M1286.4,1100.4 L1292.1,1099.3 L1291.6,1103.3 L1287,1103.3Z" fill="#1874cd"/><path d="M1297.9,1099.9 L1309.3,1095.6 L1320.7,1094.1 L1329.3,1091.3 L1337.9,1082.7 L1343.6,1071.3 L1345,1075.6 L1339.3,1085.6 L1329.3,1095.6 L1317.9,1098.4 L1306.4,1101.3 L1297.9,1102.7Z" fill="#1874cd"/><g clip-path="url(#land)"><path d="M80,230 L150,230 L150,240 L165,250 L170,270 L168,300 L165,330 L160,350 L158,370 L156,400 L155,430 L156,460 L150,490 L140,495 L150,520 L165,545 L181,566 L200,590 L212,610 L222,623 L235,640 L249.8,652 L258,670 L262,690 L265,709 L272,712 L280.7,691.9 L292.1,674.7 L300.7,666.1 L313.3,665.3 L331.3,665.3 L349.3,661.9 L367,651 L383.6,653.3 L399.3,654.7 L399.7,668.5 L406.8,686.4 L410.4,715 L417.6,729.4 L435.5,743.7 L453.4,747.3 L471.3,758.1 L489.3,765.2 L507.2,779.6 L525.1,790.3 L535.9,797.5 L539.4,797.5 L561,811.8 L575.3,793.9 L589.6,750.9 L607.5,718.6 L621.9,733 L636.2,765.2 L654.1,747.3 L668.5,722.2 L686.4,725.8 L704.3,729.4 L712,729 L712,1000 L0,1000 L0,230Z" fill="url(#bspeck)"/><path d="M1512.1,535.7 L1523.6,527.1 L1543.6,524.3 L1566.4,518.6 L1577.9,520 L1577.9,525.7 L1560.7,532.9 L1540.7,540 L1523.6,544.3 L1515,548.9 L1509.3,548.9Z" fill="url(#bspeck2)"/><path d="M1520,530 L1512.7,535.2 L1508.8,545.1 L1514.7,558.9 L1510.7,574.7 L1500.9,590.4 L1492,600 L1488,610 L1487,619 L1470,621 L1455,600 L1441.7,586.5 L1429.9,598.3 L1425.9,614.1 L1429.9,629.9 L1422,641.7 L1425.9,657.5 L1418,669.3 L1398.3,667.3 L1390.4,677.2 L1382.5,683.1 L1375.2,688.2 L1364.7,694.5 L1354.3,690.3 L1339.6,692.4 L1333.3,702.9 L1322.8,717.5 L1312.4,723.8 L1291.4,728 L1270.5,730.1 L1255.8,738.5 L1245.3,744.8 L1228.6,749 L1207.6,749 L1195,744.8 L1186.7,749 L1176.2,757.3 L1161.5,769.9 L1148.9,782.5 L1134.3,782.5 L1128,757.3 L1119.6,749 L1102.9,757.3 L1092.4,765.7 L1075.6,761.5 L1073.5,744.8 L1090.3,736.4 L1089.2,723.8 L1090.3,702.9 L1088.2,681.9 L1065.1,675.6 L1062,682 L1050,690 L1042,698 L1030,710 L1014,722 L1005,735 L995,748 L985,765 L970,772 L955,775 L943.4,772.9 L931.6,772.9 L911.8,768.9 L892.1,763 L872.4,757.1 L858.6,753.2 L844.8,745.3 L829,741.4 L817.2,745.3 L805.4,747.3 L793.6,751.2 L773.8,749.2 L754.1,745.3 L745,752 L740.2,772.4 L725.8,786.7 L704.3,808.2 L700,808 L690,808 L690,1200 L1800,1200 L1800,530Z" fill="url(#bspeck2)"/><path d="M170,240 L185,250 L195,265 L193,290 L190,320 L180,345 L176,370 L175,400 L172,430 L170,460 L168,490 L166.7,495 L170,510 L181,523 L195,557 L209.7,580 L221,600 L232.6,629 L244,646 L255.5,663 L262,680 L267,700 L272,715 L265,709 L262,690 L258,670 L249.8,652 L235,640 L222,623 L212,610 L200,590 L181,566 L165,545 L150,520 L140,495 L150,490 L156,460 L155,430 L156,400 L158,370 L160,350 L165,330 L168,300 L170,270 L165,250 L150,240Z" fill="url(#mixgbd)"/><path d="M290,672 L300,666 L313,662 L331,662 L349,658 L367,648 L383.6,650 L399.3,651 L399.3,662 L383,662 L365,660 L350,668 L330,672 L312,672 L300,676Z" fill="url(#mixgb)"/><path d="M406,669 L430,672 L450,670 L470,667 L490,667 L488,676 L470,682 L455,690 L440,696 L425,701 L412,704Z" fill="url(#mixgb)"/><path d="M406.8,686.4 L410.4,715 L417.6,729.4 L435.5,743.7 L453.4,747.3 L471.3,758.1 L489.3,765.2 L507.2,779.6 L525.1,790.3 L535.9,797.5 L530,805 L505,790 L485,776 L465,768 L448,758 L430,754 L412,742 L402,725 L398,700Z" fill="url(#mixgb)"/><path d="M118,282 L130,279 L142,281 L145,292 L140,304 L128,307 L119,300Z" fill="url(#mixgbd)"/><path d="M262,690 L300,668 L340,680 L370,710 L388,745 L385,790 L370,810 L330,800 L300,780 L275,750 L265,720Z" fill="url(#mixgb2)"/><path d="M320.7,435.7 L329.3,430 L337.9,435.7 L340.7,444.3 L335,452.9 L326.4,447.1Z" fill="#b3b3b3"/><path d="M423.6,515.7 L437.9,511.4 L452.1,512.9 L457.9,524.3 L460.7,548.9 L429.3,548.9 L426.4,527.1Z" fill="#b3b3b3"/><path d="M210.3,334.6 L236.9,322.8 L266.5,322.8 L290.2,325.7 L310.9,328.7 L313.8,349.4 L319.7,346.4 L331.5,352.4 L334.5,364.2 L328.6,376 L322.7,370.1 L290.2,364.2 L272.4,373.1 L248.8,379 L231,381.9 L219.2,390.8 L204.4,393.8 L198.5,381.9 L201.4,367.1 L183.7,364.2 L177.8,358.3 L198.5,352.4 L213.3,349.4 L210.3,340.5Z" fill="#b3b3b3"/><path d="M234,280 L240,276 L244,279 L238,292 L240,305 L256,309 L282,303 L292,288 L296,290 L288,312 L260,318 L240,318 L231,308 L232,292Z" fill="#b3b3b3"/><path d="M1129.3,492.9 L1136.4,491.4 L1137.9,504.3 L1130.7,504.3Z" fill="#b3b3b3"/><path d="M1376.4,451.4 L1389.3,447.1 L1415,448.6 L1420.7,455.7 L1380.7,458.6Z" fill="#b3b3b3"/><path d="M1495,515.7 L1515,525.7 L1520.7,532.9 L1512.1,548.9 L1489.3,548.9 L1486.4,532.9Z" fill="#b3b3b3"/><path d="M1532,508 L1545,505 L1550,495 L1558,495 L1560,505 L1568,508 L1575,508 L1578,512 L1579,517 L1560,520 L1545,522 L1532,524Z" fill="#b3b3b3"/><path d="M1586,498 L1592,497 L1594,508 L1588,510Z" fill="#b3b3b3"/><path d="M1596,478 L1603,476 L1606,486 L1612,493 L1615,502 L1610,509 L1600,508 L1596,495Z" fill="#b3b3b3"/><path d="M1620,428 L1630,422 L1640,415 L1655,408 L1665,404 L1678,401 L1690,397 L1705,394 L1706,401 L1690,404 L1678,408 L1666,411 L1655,415.7 L1638,424 L1629,433 L1620,436Z" fill="#b3b3b3"/><path d="M704.3,729.4 L706.8,729.5 L718.7,721.6 L734.4,711.8 L744.3,701.9 L764,698 L783.7,696 L789.6,688.1 L797.5,694 L801.4,686.2 L813.3,682.2 L821.2,676.3 L817.2,670.4 L829,666.4 L833,656.6 L844.8,654.6 L852.7,642.8 L858.6,634.9 L868.5,634.9 L872.4,642.8 L880.3,638.8 L888.2,640.8 L884.2,652.6 L888.2,658.6 L900,650.7 L907.9,642.8 L921.7,640.8 L939.4,638.8 L943.4,632.9 L951.3,627 L971,623.1 L986.7,621.1 L990.7,615.2 L994.6,605.3 L1002.5,597.5 L1006.5,601.4 L1002.5,609.3 L1010.4,615.2 L1018.3,619.1 L1030.1,621.1 L1041.9,609.3 L1049.8,599.4 L1059.7,591.5 L1065,589.6 L1079.1,586.3 L1108.7,585.3 L1136.3,588.3 L1148.1,580.4 L1167.9,570.5 L1177.7,566.6 L1187.6,572.5 L1197.4,584.3 L1209.3,580.4 L1215.2,580.4 L1227,572.5 L1232.9,562.7 L1246.7,572.5 L1256.6,584.3 L1262.5,556.7 L1272.3,562.7 L1276.3,584.3 L1286.1,592.2 L1296,580.4 L1305.9,568.6 L1315.7,576.5 L1325.6,564.6 L1331.5,548.9 L1337.2,535.2 L1358.9,549 L1358.9,568.7 L1394.4,551 L1418,539.2 L1437.8,545.1 L1457.5,543.1 L1483.1,539.2 L1496.9,527.3 L1512.7,515.5 L1526.5,515.5 L1535,520 L1520,530 L1512.7,535.2 L1508.8,545.1 L1514.7,558.9 L1510.7,574.7 L1500.9,590.4 L1492,600 L1488,610 L1487,619 L1470,621 L1455,600 L1441.7,586.5 L1429.9,598.3 L1425.9,614.1 L1429.9,629.9 L1422,641.7 L1425.9,657.5 L1418,669.3 L1398.3,667.3 L1390.4,677.2 L1382.5,683.1 L1375.2,688.2 L1364.7,694.5 L1354.3,690.3 L1339.6,692.4 L1333.3,702.9 L1322.8,717.5 L1312.4,723.8 L1291.4,728 L1270.5,730.1 L1255.8,738.5 L1245.3,744.8 L1228.6,749 L1207.6,749 L1195,744.8 L1186.7,749 L1176.2,757.3 L1161.5,769.9 L1148.9,782.5 L1134.3,782.5 L1128,757.3 L1119.6,749 L1102.9,757.3 L1092.4,765.7 L1075.6,761.5 L1073.5,744.8 L1090.3,736.4 L1089.2,723.8 L1090.3,702.9 L1088.2,681.9 L1065.1,675.6 L1062,682 L1050,690 L1042,698 L1030,710 L1014,722 L1005,735 L995,748 L985,765 L970,772 L955,775 L943.4,772.9 L931.6,772.9 L911.8,768.9 L892.1,763 L872.4,757.1 L858.6,753.2 L844.8,745.3 L829,741.4 L817.2,745.3 L805.4,747.3 L793.6,751.2 L773.8,749.2 L754.1,745.3 L745,752 L740.2,772.4 L725.8,786.7 L704.3,808.2 L700,808Z" fill="#b3b3b3"/><path d="M1241,505 L1257,508 L1258,520 L1252,533 L1244,532Z" fill="#b3b3b3"/><path d="M1337,535 L1347,537 L1356,548 L1357,566 L1345,560 L1338,548Z" fill="#b3b3b3"/><path d="M1395,546 L1420,544 L1420,566 L1398,566Z" fill="#b3b3b3"/><path d="M1362,481 L1372,474 L1379,466 L1383,464 L1376,476 L1365,484Z" fill="#b3b3b3"/><path d="M1240,505 L1252,503 L1262,510 L1275,513 L1290,512 L1300,511 L1305,516 L1290,520 L1270,518 L1262,532 L1245,533 L1240,520Z" fill="#b3b3b3"/><path d="M1256,470 L1266,466 L1270,476 L1262,488 L1256,486Z" fill="#b3b3b3"/><path d="M539.4,797.5 L561,811.8 L575.3,793.9 L589.6,750.9 L607.5,718.6 L621.9,733 L636.2,765.2 L654.1,747.3 L668.5,722.2 L686.4,725.8 L704.3,729.4 L712,729 L712,790 L690,800 L670,795 L650,792 L630,805 L610,818 L590,828 L570,835 L555,840 L540,842Z" fill="#b3b3b3"/><path d="M378,765 L400,772 L425,778 L445,790 L455,810 L448,825 L420,832 L392,828 L380,815Z" fill="#b3b3b3"/><path d="M458,662 L470,650 L480,640 L490,625 L500,615 L512,607 L525,605 L528,612 L515,625 L505,640 L500,655 L510,665 L530,666 L530,669 L470,669Z" fill="#b3b3b3"/><path d="M466,697 L476,695 L482,702 L478,726 L470,716Z" fill="#b3b3b3"/><path d="M1010.4,619.1 L1022.2,623.1 L1034,625 L1041.9,634.9 L1038,654.6 L1034,674.3 L1026.2,658.6 L1018.3,646.7 L1014.3,634.9Z" fill="#4d4d4d"/><path d="M707,725 L730,722 L734,737 L718,742 L707,745Z" fill="#4d4d4d"/><path d="M712,754 L725,754 L724,770 L712,770Z" fill="#4d4d4d"/><path d="M1330,560 L1345,565 L1362.8,574.7 L1398.3,574.7 L1390.4,590.4 L1378.6,602.3 L1366.8,614.1 L1358.9,622 L1353,631.8 L1345.1,647.6 L1335,655 L1322,665 L1310,672 L1300,665 L1312,645 L1318,630 L1325,610 L1330,590Z" fill="#4d4d4d"/><path d="M1299.8,663 L1318.6,658.9 L1322.8,667.2 L1316.5,681.9 L1308.2,694.5 L1299.8,702.9 L1287.2,711.2 L1274.6,728 L1262.1,723.8 L1266.3,711.2 L1281,702.9 L1291.4,690.3 L1299.8,677.7Z" fill="#4d4d4d"/><path d="M1300,659 L1325,660 L1322,683 L1302,683Z" fill="#4d4d4d"/><path d="M1228,618 L1236,616 L1238,626 L1229,627Z" fill="#4d4d4d"/><path d="M1248,650 L1256,650 L1257,660 L1249,660Z" fill="#4d4d4d"/><path d="M625,782 L633,778 L640,790 L640,820 L630,823 L626,805Z" fill="#4d4d4d"/><path d="M947,720 L957,718 L970,716 L985,722 L990,732 L975,735 L960,732 L948,734Z" fill="#1874cd"/><path d="M1215,655 L1225,652 L1229,660 L1220,664Z" fill="#1874cd"/><g fill="none" stroke-linejoin="round" stroke-linecap="round"><path d="M705.3,836.9 L718.6,829.2 L737.7,823.5 L747.3,810.2 L756.8,796.8 L772.1,793 L781.6,781.5 L785.4,768.2 L793.1,762.4 L804.5,760.5 L812.1,752.9 L823.6,751 L835,754.8 L846.5,762.4 L857.9,768.2 L871.3,772 L884.7,768.2 L896.1,768.2 L909.5,772 L924.7,783.4 L938.1,791.1 L949.5,796.8 L961,802.5 L976.3,802.5 L995.3,800.6 L1014.4,796.8 L1018.2,768.2 L1025.9,775.8 L1031.6,785.3 L1043.1,783.4 L1062.1,781.5 L1069.8,791.1 L1071.7,806.3 L1090,808.2" stroke="#e4e21e" stroke-width="7.5" stroke-dasharray="2 3"/><path d="M800,758 L812,753 L824,752 L835,756" stroke="#e4e21e" stroke-width="10.5" stroke-dasharray="2 3"/><path d="M848.4,863.6 L861.8,854 L873.2,852.1 L880.8,863.6 L892.3,869.3 L899.9,875 L909.5,877 L924.7,869.3 L938.1,871.2 L953.4,875 L966.7,882.7 L980.1,867.4 L985.8,863.6 L987.7,882.7 L1004.9,884.6 L1024,882.7 L1043.1,880.8 L1062.1,882.7 L1081.2,884.6" stroke="#e4e21e" stroke-width="4.5" stroke-dasharray="2 3"/><path d="M690,886.5 L709.1,896 L728.2,892.2 L743.4,897.9 L756.8,901.8 L770.2,911.3 L781.6,920.8 L796.9,930.4 L812.1,920.8 L823.6,911.3 L835,901.8 L842.7,911.3 L854.1,920.8 L871.3,913.2 L890.4,920.8 L899.9,932.3 L919,913.2 L934.3,920.8" stroke="#e4e21e" stroke-width="4.5" stroke-dasharray="2 3"/><path d="M766.3,909.1 L785.4,918.6 L804.5,922.4 L823.6,918.6 L835,928.2 L846.5,933.9 L856,935.8" stroke="#e4e21e" stroke-width="4.5" stroke-dasharray="2 3"/><path d="M859.8,810.2 L873.2,802.5 L884.7,814 L873.2,819.7 L861.8,815.9 L859.8,810.2" stroke="#e4e21e" stroke-width="4.5" stroke-dasharray="2 3"/><path d="M823.6,825.4 L827.4,831.1 L823.6,834 L821.7,829.2 L823.6,825.4" stroke="#e4e21e" stroke-width="4.0" stroke-dasharray="2 3"/><path d="M856,935.8 L861.8,928.2 L873.2,928.2 L877,939.6 L873.2,947.3 L861.8,947.3 L857.9,941.5 L856,935.8" stroke="#e4e21e" stroke-width="4.5" stroke-dasharray="2 3"/><path d="M888.5,953 L896.1,937.7 L899.9,928.2 L905.6,920.5 L919,914.8 L930.5,918.6" stroke="#e4e21e" stroke-width="5.5" stroke-dasharray="2 3"/><path d="M785.4,970.2 L800.7,962.5 L814,964.4 L817.9,975.9 L827.4,985.4 L825.5,996.9 L819.8,1004.5 L821.7,1021.7" stroke="#e4e21e" stroke-width="4.5" stroke-dasharray="2 3"/><path d="M1040,784.9 L1051.5,781.1 L1068.6,783 L1070.5,796.3 L1066.7,807.8 L1078.2,809.7 L1089.6,800.2 L1103,800.2 L1106.8,786.8 L1112.5,783 L1120.2,804 L1127.8,811.6 L1135.4,802.1 L1143.1,807.8 L1148.8,819.2 L1158.3,821.1 L1169.8,813.5 L1177.4,821.1 L1188.9,825 L1204.1,823.1 L1221.3,821.1 L1230.8,826.9 L1240.4,811.6 L1249.9,815.4 L1259.5,807.8 L1269,815.4 L1280.5,805.9 L1288.1,796.3 L1297.6,800.2 L1307.2,796.3 L1316.7,804 L1330.1,800.2 L1341.5,792.5 L1354.9,798.2 L1368.2,798.2" stroke="#e4e21e" stroke-width="6.5" stroke-dasharray="2 3"/><path d="M1066,795 L1080,806 L1095,801 L1110,800 L1125,806" stroke="#e4e21e" stroke-width="8.5" stroke-dasharray="2 3"/><path d="M1162.1,762 L1173.6,767.7 L1166,777.3 L1177.4,786.8 L1192.7,777.3 L1207.9,775.3 L1211.8,783 L1204.1,792.5 L1188.9,798.2" stroke="#e4e21e" stroke-width="4.5" stroke-dasharray="2 3"/><path d="M1097.3,826.9 L1101.1,838.3 L1095.3,846 L1091.5,834.5 L1097.3,826.9" stroke="#e4e21e" stroke-width="4.0" stroke-dasharray="2 3"/><path d="M1040,884.1 L1055.3,886 L1070.5,884.1 L1087.7,878.4 L1104.9,882.2 L1116.3,884.1 L1131.6,891.8 L1146.9,889.8 L1162.1,887.9 L1177.4,886 L1192.7,887.9 L1200.3,895.6 L1211.8,878.4 L1221.3,884.1 L1230.8,882.2 L1249.9,876.5 L1259.5,882.2 L1269,876.5 L1280.5,868.9 L1288.1,876.5 L1295.7,884.1" stroke="#e4e21e" stroke-width="6.5" stroke-dasharray="2 3"/><path d="M1316.7,771.5 L1326.3,773.4 L1333.9,783 L1326.3,792.5 L1337.7,792.5 L1345.3,796.3 L1360.6,798.2 L1368.2,802.1" stroke="#e4e21e" stroke-width="4.5" stroke-dasharray="2 3"/><path d="M1259.5,746.7 L1278.5,742.9 L1291.9,746.7 L1303.4,752.4 L1316.7,748.6 L1330.1,750.5" stroke="#e4e21e" stroke-width="5.5" stroke-dasharray="2 3"/><path d="M1322.4,731.5 L1337.7,733.4 L1354.9,729.5 L1374,723.8 L1393,720" stroke="#e4e21e" stroke-width="5.5" stroke-dasharray="2 3"/><path d="M1323.6,734.7 L1352.1,726.1 L1380.7,714.7 L1409.3,711.9 L1437.9,706.1 L1460.7,709" stroke="#e4e21e" stroke-width="5.5" stroke-dasharray="2 3"/><path d="M1020.3,721.6 L1030.1,713.8 L1041.9,703.9 L1049.8,698 L1057.7,690.1 L1065,686.2" stroke="#e4e21e" stroke-width="11.5" stroke-dasharray="2 3"/><path d="M1040,690 L1050,700 L1062,705" stroke="#e4e21e" stroke-width="6.5" stroke-dasharray="2 3"/><path d="M1078,700 L1088,708 L1096,718" stroke="#e4e21e" stroke-width="6.5" stroke-dasharray="2 3"/><path d="M1277.9,962.7 L1286.4,948.4 L1297.9,942.7 L1309.3,945.6 L1320.7,944.1" stroke="#e4e21e" stroke-width="5.5" stroke-dasharray="2 3"/><path d="M1295,1025.6 L1309.3,1034.1 L1320.7,1025.6 L1329.3,1017 L1337.9,1014.1" stroke="#e4e21e" stroke-width="5.5" stroke-dasharray="2 3"/><path d="M1340.7,1042.7 L1343.6,1059.9" stroke="#e4e21e" stroke-width="4.5" stroke-dasharray="2 3"/><path d="M150,305 L158,300 L165,308" stroke="#e4e21e" stroke-width="4.5" stroke-dasharray="2 3"/><path d="M709.1,871.2 L720.5,867.4 L728.2,875 L720.5,882.7 L709.1,878.9Z" fill="url(#rspeck2)"/><path d="M789.2,857.9 L804.5,861.7 L800.7,865.5 L791.1,863.6Z" fill="url(#rspeck2)"/><path d="M827.4,1014 L838.9,1004.5 L846.5,996.9 L854.1,996.9 L856,1008.3 L852.2,1019.8 L857.9,1031.2 L850.3,1023.6 L842.7,1017.9 L831.2,1021.7Z" fill="url(#rspeck2)"/><path d="M1223.2,819.2 L1238.5,805.9 L1259.5,802.1 L1278.5,798.2 L1288.1,800.2 L1286.2,811.6 L1269,819.2 L1265.2,834.5 L1249.9,832.6 L1230.8,830.7Z" fill="url(#rspeck2)"/><path d="M1185,884 L1200,882 L1204,895 L1195,901 L1186,895Z" fill="url(#rspeck2)"/><path d="M1315,1016 L1330,1013 L1338,1020 L1335,1035 L1322,1038 L1314,1028Z" fill="url(#rspeck2)"/><path d="M147,318 L154,315 L162,317 L164,327 L156,331 L149,327Z" fill="url(#rspeck2)"/><path d="M705.3,836.9 L718.6,829.2 L737.7,823.5 L747.3,810.2 L756.8,796.8 L772.1,793 L781.6,781.5 L785.4,768.2 L793.1,762.4 L804.5,760.5 L812.1,752.9 L823.6,751 L835,754.8 L846.5,762.4 L857.9,768.2 L871.3,772 L884.7,768.2 L896.1,768.2 L909.5,772 L924.7,783.4 L938.1,791.1 L949.5,796.8 L961,802.5 L976.3,802.5 L995.3,800.6 L1014.4,796.8 L1018.2,768.2 L1025.9,775.8 L1031.6,785.3 L1043.1,783.4 L1062.1,781.5 L1069.8,791.1 L1071.7,806.3 L1090,808.2" stroke="url(#rspeck)" stroke-width="6"/><path d="M800,758 L812,753 L824,752 L835,756" stroke="url(#rspeck)" stroke-width="9"/><path d="M848.4,863.6 L861.8,854 L873.2,852.1 L880.8,863.6 L892.3,869.3 L899.9,875 L909.5,877 L924.7,869.3 L938.1,871.2 L953.4,875 L966.7,882.7 L980.1,867.4 L985.8,863.6 L987.7,882.7 L1004.9,884.6 L1024,882.7 L1043.1,880.8 L1062.1,882.7 L1081.2,884.6" stroke="url(#rspeck)" stroke-width="3"/><path d="M690,886.5 L709.1,896 L728.2,892.2 L743.4,897.9 L756.8,901.8 L770.2,911.3 L781.6,920.8 L796.9,930.4 L812.1,920.8 L823.6,911.3 L835,901.8 L842.7,911.3 L854.1,920.8 L871.3,913.2 L890.4,920.8 L899.9,932.3 L919,913.2 L934.3,920.8" stroke="url(#rspeck)" stroke-width="3"/><path d="M766.3,909.1 L785.4,918.6 L804.5,922.4 L823.6,918.6 L835,928.2 L846.5,933.9 L856,935.8" stroke="url(#rspeck)" stroke-width="3"/><path d="M859.8,810.2 L873.2,802.5 L884.7,814 L873.2,819.7 L861.8,815.9 L859.8,810.2" stroke="url(#rspeck)" stroke-width="3"/><path d="M823.6,825.4 L827.4,831.1 L823.6,834 L821.7,829.2 L823.6,825.4" stroke="url(#rspeck)" stroke-width="2.5"/><path d="M856,935.8 L861.8,928.2 L873.2,928.2 L877,939.6 L873.2,947.3 L861.8,947.3 L857.9,941.5 L856,935.8" stroke="url(#rspeck)" stroke-width="3"/><path d="M888.5,953 L896.1,937.7 L899.9,928.2 L905.6,920.5 L919,914.8 L930.5,918.6" stroke="url(#rspeck)" stroke-width="4"/><path d="M785.4,970.2 L800.7,962.5 L814,964.4 L817.9,975.9 L827.4,985.4 L825.5,996.9 L819.8,1004.5 L821.7,1021.7" stroke="url(#rspeck)" stroke-width="3"/><path d="M1040,784.9 L1051.5,781.1 L1068.6,783 L1070.5,796.3 L1066.7,807.8 L1078.2,809.7 L1089.6,800.2 L1103,800.2 L1106.8,786.8 L1112.5,783 L1120.2,804 L1127.8,811.6 L1135.4,802.1 L1143.1,807.8 L1148.8,819.2 L1158.3,821.1 L1169.8,813.5 L1177.4,821.1 L1188.9,825 L1204.1,823.1 L1221.3,821.1 L1230.8,826.9 L1240.4,811.6 L1249.9,815.4 L1259.5,807.8 L1269,815.4 L1280.5,805.9 L1288.1,796.3 L1297.6,800.2 L1307.2,796.3 L1316.7,804 L1330.1,800.2 L1341.5,792.5 L1354.9,798.2 L1368.2,798.2" stroke="url(#rspeck)" stroke-width="5"/><path d="M1066,795 L1080,806 L1095,801 L1110,800 L1125,806" stroke="url(#rspeck)" stroke-width="7"/><path d="M1162.1,762 L1173.6,767.7 L1166,777.3 L1177.4,786.8 L1192.7,777.3 L1207.9,775.3 L1211.8,783 L1204.1,792.5 L1188.9,798.2" stroke="url(#rspeck)" stroke-width="3"/><path d="M1097.3,826.9 L1101.1,838.3 L1095.3,846 L1091.5,834.5 L1097.3,826.9" stroke="url(#rspeck)" stroke-width="2.5"/><path d="M1040,884.1 L1055.3,886 L1070.5,884.1 L1087.7,878.4 L1104.9,882.2 L1116.3,884.1 L1131.6,891.8 L1146.9,889.8 L1162.1,887.9 L1177.4,886 L1192.7,887.9 L1200.3,895.6 L1211.8,878.4 L1221.3,884.1 L1230.8,882.2 L1249.9,876.5 L1259.5,882.2 L1269,876.5 L1280.5,868.9 L1288.1,876.5 L1295.7,884.1" stroke="url(#rspeck)" stroke-width="5"/><path d="M1316.7,771.5 L1326.3,773.4 L1333.9,783 L1326.3,792.5 L1337.7,792.5 L1345.3,796.3 L1360.6,798.2 L1368.2,802.1" stroke="url(#rspeck)" stroke-width="3"/><path d="M1259.5,746.7 L1278.5,742.9 L1291.9,746.7 L1303.4,752.4 L1316.7,748.6 L1330.1,750.5" stroke="url(#rspeck)" stroke-width="4"/><path d="M1322.4,731.5 L1337.7,733.4 L1354.9,729.5 L1374,723.8 L1393,720" stroke="url(#rspeck)" stroke-width="4"/><path d="M1323.6,734.7 L1352.1,726.1 L1380.7,714.7 L1409.3,711.9 L1437.9,706.1 L1460.7,709" stroke="url(#rspeck)" stroke-width="4"/><path d="M1020.3,721.6 L1030.1,713.8 L1041.9,703.9 L1049.8,698 L1057.7,690.1 L1065,686.2" stroke="url(#rspeck)" stroke-width="10"/><path d="M1040,690 L1050,700 L1062,705" stroke="url(#rspeck)" stroke-width="5"/><path d="M1078,700 L1088,708 L1096,718" stroke="url(#rspeck)" stroke-width="5"/><path d="M1277.9,962.7 L1286.4,948.4 L1297.9,942.7 L1309.3,945.6 L1320.7,944.1" stroke="url(#rspeck)" stroke-width="4"/><path d="M1295,1025.6 L1309.3,1034.1 L1320.7,1025.6 L1329.3,1017 L1337.9,1014.1" stroke="url(#rspeck)" stroke-width="4"/><path d="M1340.7,1042.7 L1343.6,1059.9" stroke="url(#rspeck)" stroke-width="3"/><path d="M150,305 L158,300 L165,308" stroke="url(#rspeck)" stroke-width="3"/></g></g><g fill="none" stroke="#000" stroke-width="3.8" stroke-linejoin="round" stroke-linecap="round"><path d="M109.3,548.9 L116.4,524.3 L113.6,504.3 L110.7,492.9 L107.9,478.6 L105,464.3 L107.9,450 L112.1,430 L116.4,407.1 L119.3,381.4 L122.1,358.6 L122.1,348.6 L120.7,338.6 L122.1,327.1 L119.3,315.7 L115,304.3 L107.9,290 L100.7,275.7 L100.7,270 L115,272.9 L135,277.1 L146.4,278 L149.3,270 L145,261.4 L149.3,257.1 L153.6,248.6 L695,248.6 L925,248.6 L925,235.7 L936.4,235.7 L940.7,257.1 L952.1,258.6 L965,265.7 L977.9,260 L992.1,261.4 L1003.6,274.3 L1015,272.9 L1026.4,281.4 L1043.6,275.7 L1052.1,280 L1066.4,281.4 L1085,283.4 L1066.4,288.6 L1046.4,300 L1029.3,312.9 L1009.3,328.6 L1020.7,327.1 L1037.9,321.4 L1045,324.3 L1046.4,331.4 L1063.6,328.6 L1080.7,321.4 L1100.7,312.9 L1117.9,305.7 L1132.1,302.9 L1117.9,312.9 L1115,324.3 L1126.4,321.4 L1137.9,330 L1146.4,337.1 L1163.6,335.7 L1180.7,328.6 L1209.3,327.1 L1212.1,337.1 L1226.4,338.6 L1232.1,347.1 L1237.9,352.9 L1217.9,352.9 L1209.3,354.3 L1185.9,352.1 L1172.9,354.7 L1159.9,357.3 L1149.5,365.1 L1141.7,375.5 L1133.9,383.3 L1128.7,391.1 L1126.1,401.5 L1128.7,404.1 L1136.5,391.1 L1146.9,378.1 L1157.3,365.1 L1162.5,358.5 L1166,360.5 L1157.3,375.5 L1149.5,388.5 L1141.7,398.9 L1139.1,417.1 L1133.9,432.7 L1128.7,450.9 L1131.3,476.9 L1136.5,495.1 L1144.3,502.9 L1157.3,500.3 L1167.7,487.3 L1172.9,469.1 L1172.9,450.9 L1167.7,432.7 L1167.7,417.1 L1172.9,401.5 L1180.7,385.9 L1191.1,375.5 L1204,365.1 L1211.9,357.3 L1223.6,361.4 L1243.6,370 L1255,378.6 L1257.9,387.1 L1255,395.7 L1255,407.1 L1249.3,418.6 L1240.7,427.1 L1243.6,435.7 L1255,430 L1266.4,421.4 L1275,427.1 L1279.3,447.1 L1280.7,458.6 L1277.9,467.1 L1272.1,472.9 L1266.4,481.4 L1263.6,490 L1255,495.7 L1252.1,501.4 L1266.4,510 L1280.7,512.9 L1294.7,510 L1295,510 L1312.1,502.9 L1335,492.9 L1355,485.7 L1372.1,475.7 L1380.7,467.1 L1376.4,458.6 L1376.4,450 L1389.3,445.7 L1409.3,445.7 L1417.9,448.6 L1435,448.6 L1443.6,442.9 L1452.1,440 L1455,430 L1450.7,420 L1457.9,415.7 L1466.4,405.7 L1477.9,395.7 L1492.1,387.1 L1535,387.7 L1586.4,386.6 L1592.1,378.6 L1602.1,377.1 L1609.3,371.4 L1616.4,364.3 L1620.7,357.1 L1620.7,347.1 L1626.4,332.9 L1637.9,318.6 L1650.7,302.9 L1656.4,308.6 L1675,305.7 L1690.7,317.1 L1691.6,361.4 L1697.9,365.7 L1700.7,378.6 L1706.4,384.3 L1712.1,394.3 L1706.4,401.4 L1695,402.9 L1686.4,404.3 L1677.9,408.6 L1666.4,411.4 L1657.9,408.6 L1655,415.7 L1637.9,424.3 L1629.3,432.9 L1620.7,435.7 L1615,444.3 L1609.3,455.7 L1606.4,464.3 L1602.1,472.9 L1607.9,472.9 L1603.6,478.6 L1599.3,481.4 L1602.1,487.1 L1609.3,492.9 L1615,501.4 L1626.4,503.7 L1627.9,494.3 L1622.1,490.6 L1627.9,491.4 L1631.6,500 L1629.3,508.6 L1623.6,511.4 L1612.1,510 L1603.6,511.4 L1592.1,508.6 L1580.7,511.4 L1566.4,514.3 L1552.1,517.1 L1537.9,520 L1526.4,525.7 L1520.7,530 L1515,541.4 L1512.1,548.9 L1517.9,549 L1516.4,563.3 L1509.3,577.6 L1497.9,591.9 L1492.1,601.9 L1486.4,591.9 L1477.9,580.4 L1473.6,573.3 L1477.9,586.1 L1483.6,600.4 L1487.9,614.7 L1485,626.1 L1477.9,640.4 L1469.3,654.7 L1463.6,663.3 L1463.6,669 L1466.4,683.3 L1469.3,691.9 L1475,709 L1476.4,717.6 L1475,729 L1466.4,734.7 L1455,737.6 L1449.3,746.1 L1443.6,751.9 L1432.1,749 L1420.7,754.7 L1409.3,766.1 L1403.6,777.6 L1389.3,777.6 L1380.7,786.1 L1372.1,797.6 L1372.1,799.9 L1360.7,808.4 L1349.3,819.9 L1337.9,825.6 L1329.3,831.3 L1326.4,839.9 L1320.7,848.4 L1315,859.9 L1309.3,871.3 L1307.9,882.7 L1309.3,891.3 L1312.1,911.3 L1317.9,928.4 L1323.6,945.6 L1329.3,962.7 L1335,979.9 L1340.7,997 L1346.4,1014.1 L1349.3,1031.3 L1346.4,1048.4 L1343.6,1065.6 L1337.9,1075.6 L1329.3,1079.9 L1317.9,1079.9 L1315,1071.3 L1309.3,1062.7 L1303.6,1057 L1297.9,1048.4 L1295,1037 L1292.1,1025.6 L1283.6,1019.9 L1277.9,1008.4 L1272.1,997 L1270.7,982.7 L1273.6,968.4 L1275,954.1 L1272.1,945.6 L1263.6,937 L1255,928.4 L1246.4,917 L1237.9,909.9 L1223.6,914.1 L1212.1,919.9 L1200.7,922.7 L1195,917 L1192.1,908.4 L1180.7,899.9 L1166.4,895.6 L1152.1,897 L1137.9,901.3 L1123.6,902.7 L1112.1,898.4 L1106.4,899.9 L1095,902.7 L1089.3,905.6 L1080.7,905.6 L1075,899.9 L1063.6,899.9 L1057.9,905.6 L1066.4,909.9 L1077.9,908.4 L1089.3,917 L1086.4,931.3 L1095,942.7 L1089.3,945.6 L1080.7,937 L1075,931.3 L1069.3,934.1 L1063.6,942.7 L1055,939.9 L1046.4,945.6 L1037.9,939.9 L1032.1,931.3 L1023.6,922.7 L1015,919.9 L1009.3,928.4 L992.1,924.1 L975,919.9 L957.9,921.3 L946.4,925.6 L937.9,927 L932.1,934.1 L920.7,948.4 L906.4,957 L895,962.7 L883.6,971.3 L872.1,979.9 L866.4,991.3 L860.7,997 L860.7,1008.4 L863.6,1025.6 L866.4,1042.7 L869.3,1052.7 L860.7,1054.1 L849.3,1051.3 L837.9,1048.4 L823.6,1042.7 L815,1037 L809.3,1025.6 L806.4,1011.3 L803.6,997 L792.1,982.7 L780.7,965.6 L775,951.3 L766.4,937 L752.1,925.6 L746.4,921.3 L723.6,919.9 L715,925.6 L709.3,937 L703.6,945.6 L695,948.4 L693.5,946.5 L683.9,940 L673.1,933.5 L664.5,926 L660.2,915.3 L659.1,906.7 L654.8,897 L650.5,889.5 L640.9,883 L632.3,875.5 L623.7,866.9 L617.2,862.6 L612.9,851.8 L604.3,844.3 L604.2,849.8 L562.2,849.8 L562.2,866 L537.4,866 L482.1,866 L377.9,826.1 L376.4,819 L313.6,824.7 L313.6,824.7 L307.9,814.7 L305,800.4 L295,789 L280.7,780.4 L269.3,774.7 L255,769 L243.6,760.4 L220.7,757.6 L215,753.3 L213.6,743.3 L212.1,731.9 L206.4,726.1 L203.6,720.4 L192.1,709 L180.7,694.7 L177.9,680.4 L180.7,671.9 L172.1,666.1 L166.4,657.6 L163.6,646.1 L149.3,634.7 L147.9,629 L140.7,614.7 L129.3,603.3 L126.4,591.9 L123.6,580.4 L117.9,566.1 L112.1,554.7 L109.3,549Z"/><path d="M1517.9,537.1 L1532.1,530 L1552.1,524.3 L1569.3,520 L1577.9,521.4 L1576.4,527.1 L1560.7,532.9 L1543.6,538.6 L1529.3,542.9 L1517.9,544.3Z"/><path d="M122.1,348.6 L135,345.7 L150.7,350 L153.6,361.4 L160.7,368.6 L172.1,367.1 L189.3,365.7 L200.7,367.1 L217.9,362.9 L243.6,357.1 L260.7,353.4 L317.9,352.9"/><path d="M315,248.6 L315,352.9"/><path d="M317.9,352.9 L327.9,362.9 L329.3,370 L323.6,384.3 L315,398.6 L310.7,408.6 L315,415.7 L316.4,427.1 L315,432.9 L315,492.3"/><path d="M342.1,248.6 L342.1,284.3 L352.1,295.7 L353.6,302.9 L366.4,310 L377.9,324.3 L389.3,331.4 L386.4,344.3 L386.4,355.7 L385,368.6 L390.7,371.4 L400.7,364.3 L406.4,372.9 L412.1,387.1 L420.7,395.7 L430.7,410 L437.9,404.9 L452.1,404.3 L469.3,402.9 L473.6,397.1 L481.3,405.7"/><path d="M1046.4,331.4 L1063.6,337.1 L1066.4,341.4 L1089.3,347.1 L1109.3,352.9 L1123.6,358.6 L1129.3,367.1 L1132.1,381.4"/><path d="M867.9,248.6 L870.7,261.4 L870.7,278.6 L876.4,292.9 L880.7,304.3 L880.7,324.3 L883.6,335.7 L886.4,347.1 L885.9,355.7 L879.3,367.1 L890.7,377.1 L890.7,440 L885,441.4 L889.3,458.6 L885,467.1 L889.3,475.7 L895,481.4 L897.9,495.7 L900.7,507.1 L905,518.6 L906.4,532.9 L907.9,541.4 L912.1,548.9"/><path d="M695,458.6 L832.1,458.6 L843.6,465.7 L850.7,464.3 L866.4,462.9 L877.9,467.1 L889.3,475.7"/><path d="M1009.3,328.6 L1005.9,350 L992.1,357.1 L989.3,367.1 L993.6,372.9 L992.1,395.7 L997.9,404.3 L1015,412.9 L1029.3,421.4 L1035,430 L1035,440.9 L1040.7,450 L1037.9,458.6 L1040.7,467.1 L1052.1,475.7 L1060.7,487.1 L1065,492.9 L1063.6,501.4 L1057.9,508.6 L1043.6,512.9 L1039.3,518.6 L1043.6,527.1 L1040.7,538.6 L1032.1,544.3 L1026.4,548.9"/><path d="M1355,485.7 L1355,492.9 L1480.7,492.9 L1489.3,504.3 L1495,512.9"/><path d="M1335,492.9 L1335,548.9"/><path d="M1495,512.9 L1526.4,527.1"/><path d="M1495,512.9 L1489.3,524.3 L1483.6,538.6 L1480.7,548.9"/><path d="M1535,387.7 L1536.4,407.1 L1533.6,424.3 L1535,438.6 L1537.9,447.1 L1538.4,467.1 L1532.1,490 L1529.3,515.7 L1527.9,525.7"/><path d="M1590.7,380 L1586.4,401.4 L1577.9,411.4 L1570.7,418.6 L1565,435.7 L1560.7,452.9 L1557.9,467.1"/><path d="M1598.4,377.1 L1600.7,407.1 L1602.1,430 L1605,455.7 L1607.9,458.6"/><path d="M1538.4,467.1 L1595,468.6 L1607.9,461.4"/><path d="M1532.1,490.9 L1592.1,491.4 L1594.4,505.7"/><path d="M1577.9,491.4 L1577.9,512.9"/><path d="M231.6,549 L231.6,597.6 L380.7,734.7 L383.6,749 L395,761.9 L386.4,774.7 L380.7,789 L379.3,800.4 L385,809 L377.9,819"/><path d="M380.7,734.7 L379.3,700.4 L386.4,697.6 L393.6,703.3 L397.9,697.6 L398.4,667.6"/><path d="M912.1,549 L917.9,562.7 L932.1,570.4 L929.3,580.4 L940.7,593.3 L941.3,666.7 L942.1,686.1 L943.6,720.4 L946.4,786.1 L956.4,786.1 L956.4,807.6 L1035,807.6"/><path d="M790.7,753.3 L800.7,759 L809.3,757.6 L815,764.7 L829.3,767.6 L837.9,769 L849.3,776.1 L855,777.6 L866.4,781.9 L875,777.6 L883.6,777.6 L892.1,783.3 L900.7,777.6 L912.1,776.1 L923.6,774.7 L935,780.4 L946.4,786.1"/><path d="M1029.3,549 L1027.9,560.4 L1035,574.7 L1049.3,589 L1052.1,600.4 L1063.6,606.1 L1066.4,611.9 L1059.3,623.3 L1069.3,634.7 L1080.7,643.3 L1085,654.7 L1089.3,663.3 L1092.1,671.9 L1089.3,680.4 L1080.7,689 L1077.9,703.3 L1072.1,717.6 L1066.4,731.9 L1060.7,740.4 L1055,749 L1046.4,760.4 L1040.7,769 L1036.4,783.3 L1037.9,797.6 L1039.3,811.9 L1042.1,831.9 L1037.9,846.1 L1032.1,857.6 L1026.4,867.9"/><path d="M942.1,686.1 L1066.4,686.1 L1067.9,691.9 L1060.7,701.9 L1076.4,701.9 L1080.7,689"/><path d="M1092.1,669 L1103.6,663.3 L1109.3,666.1 L1112.1,657.6 L1120.7,646.1 L1123.6,637.6 L1135,634.7 L1149.3,637.6 L1163.6,631.9 L1172.1,629 L1180.7,631.9 L1195,617.6 L1203.6,606.1 L1212.1,600.4 L1220.7,593.3 L1232.1,600.4 L1243.6,607.6 L1257.9,607.6 L1266.4,609 L1277.9,617.6 L1286.4,614.7 L1294.7,597.6"/><path d="M1139.3,549 L1139.3,591.9 L1136.4,606.1 L1129.3,620.4 L1125,634.7"/><path d="M1246.4,681 L1266.4,669 L1280.7,657.6 L1294.7,649"/><path d="M1229.3,736.1 L1237.9,726.1 L1252.1,717.6 L1266.4,709 L1280.7,703.3 L1294.7,694.7"/><path d="M1122.1,739 L1120.7,766.1 L1117.9,800.4 L1115,823.3 L1113.6,867.9"/><path d="M1192.1,739 L1195,760.4 L1200.7,786.1 L1206.4,809"/><path d="M1255,739 L1257.9,746.1 L1266.4,749 L1275,766.1 L1283.6,777.6 L1294.7,789"/><path d="M1335,549 L1335,571.9 L1469.3,571.9 L1470.7,616.1 L1487.9,616.1"/><path d="M1363.6,571.9 L1363.6,591.9 L1377.9,580.4 L1389.3,576.1 L1400.7,577.6 L1409.3,586.1 L1415,589 L1420.7,594.7 L1429.3,599 L1435,603.3 L1429.3,614.7 L1432.1,623.3 L1443.6,634.7 L1449.3,646.1 L1455,657.6 L1459.3,669"/><path d="M1363.6,591.9 L1352.1,606.1 L1346.4,617.6 L1337.9,629 L1332.1,643.3 L1320.7,649 L1309.3,657.6 L1300.7,654.7 L1295,649"/><path d="M1335,549 L1332.1,566.1 L1323.6,577.6 L1309.3,586.1 L1295,600.4"/><path d="M1295,731.9 L1317.9,733.3 L1326.4,743.3 L1357.9,744.7 L1389.3,777.6"/><path d="M1295,786.1 L1306.4,800.4 L1312.1,814.7 L1317.9,831.9 L1323.6,840.4"/><path d="M956.4,807.6 L956.4,842.7 L963.6,854.1 L969.3,871.3 L966.4,888.4 L965,905.6 L962.1,919.9"/><path d="M1036.4,797 L1040.7,814.1 L1042.1,831.3 L1037.9,842.7 L1029.3,859.9 L1025,877.9 L1077.9,877.9 L1077.9,879.9 L1075,891.3 L1080.7,905.6"/><path d="M1115,797 L1115,898.4"/><path d="M1136.4,877.9 L1206.4,877.9 L1209.3,885.6"/><path d="M1136.4,877.9 L1137.9,902.7"/><path d="M1206.4,819.9 L1212.1,834.1 L1207.9,848.4 L1206.4,868.4 L1209.3,879.9 L1212.1,888.4"/><path d="M1195,879.9 L1209.3,879.9 L1212.1,888.4 L1286.4,892.7 L1289.3,899.9 L1292.1,885.6 L1307.9,888.4"/><path d="M482,389.2 L677.7,389.2"/><path d="M231.7,493.9 L231.7,598.7"/><path d="M677.7,249.5 L677.7,528.9"/><path d="M677.7,356.3 L887.1,356.3"/><path d="M677.7,459 L832.9,459"/><path d="M482,528.9 L733.6,528.9 L733.6,668.5"/><path d="M733.6,563.8 L922.1,563.8"/><path d="M482,389.2 L482,528.9"/><path d="M114.3,493.9 L482,493.9"/><path d="M398.1,493.9 L398.1,668.5"/><path d="M398.1,668.5 L941.4,668.5"/><path d="M537.9,528.9 L537.9,866.5"/><path d="M706.5,668.5 L706.5,843.1"/><path d="M706.5,686 L790.9,686 L790.9,753.7"/><path d="M605.8,843.1 L706.5,843.1"/><path d="M890.2,441.6 L1036.4,441.6"/><path d="M1052.6,476.5 L1132,476.5"/><path d="M909.2,543.5 L1022.2,543.5"/><path d="M957.6,808.2 L1038.4,808.2"/><path d="M1084.5,681.8 L1303.2,682.5 L1465.6,684.2"/><path d="M1062.2,738.4 L1229.4,738.4 L1263.5,738.4"/><path d="M1139.6,502.3 L1215.4,502.3 L1253.7,503.7"/><path d="M1215.4,502.3 L1215.4,595.2"/><path d="M1139.6,502.3 L1139.6,616.2"/><path d="M1335.6,493.9 L1335.6,573.5"/><path d="M1459.2,579.4 L1451.3,585.4 L1445.4,595.2 L1435.5,605.1 L1425.6,614.9 L1429.6,622.8 L1433.5,630.7 L1435.5,638.6 L1439.4,650.4 L1435.5,658.3 L1443.4,666.2 L1449.3,672.1 L1463.1,670.2" stroke-width="5"/><path d="M1461.1,579.4 L1455.2,591.3 L1457.2,603.1 L1465.1,614.9 L1467,626.8 L1469,638.6 L1465.1,650.4 L1463.1,662.3" stroke-width="5"/><path d="M1450,588 L1440,583" stroke-width="4"/><path d="M1440,602 L1428,598" stroke-width="4"/><path d="M1433,618 L1424,612" stroke-width="4"/><path d="M1437,640 L1426,636" stroke-width="4"/><path d="M1440,655 L1430,648" stroke-width="4"/><path d="M1446,668 L1436,662" stroke-width="4"/><path d="M1458,598 L1464,592" stroke-width="4"/><path d="M1463,612 L1470,606" stroke-width="4"/><path d="M1441.4,691.8 L1447.3,697.8 L1457.2,695.8 L1463.1,701.7 L1467,709.6 L1463.1,715.5 L1455.2,717.5 L1443.4,721.4 L1435.5,721.4" stroke-width="5"/><path d="M1445.4,729.3 L1439.4,735.2 L1431.6,737.2" stroke-width="5"/><path d="M1443.4,741.1 L1433.5,745.1" stroke-width="5"/><path d="M1449,700 L1446,712" stroke-width="4"/><path d="M156.6,251.5 L163.8,257.2 L165.2,268.7 L160.9,277.3 L169.5,285.9 L166.7,297.3 L163.8,308.8 L155.2,317.4 L149.5,311.7 L148,300.2 L152.3,288.7 L150.9,274.4 L145.2,265.8 L146.6,257.2 L156.6,251.5Z" stroke-width="5"/><path d="M158,262 L154,280 L160,295 L156,308" stroke-width="4"/><path d="M163,628 L168,636 L175,648 L170,640 L166,632" stroke-width="4"/><path d="M1523,538 L1540,530 L1560,525 L1576,522" stroke-width="4"/><path d="M1606,513 L1612,512 L1617,516 L1612,519 L1606,517Z" stroke-width="5"/><path d="M1623,515 L1629,514 L1632,520 L1626,521Z" stroke-width="5"/><path d="M1193,383 L1197,382 L1198,392 L1194,395Z" stroke-width="5"/></g><g font-family="Liberation Sans, sans-serif" fill="#000"><text x="909.0" y="58.8" font-size="36.83" font-weight="bold" text-anchor="middle">Tomato leafminer: Egg relative pop. size w/ climate stress</text><text x="909.0" y="102.9" font-size="36.83" font-weight="bold" text-anchor="middle">exclusion 12/05/2024</text><text x="909.6" y="155" font-size="29.7" text-anchor="middle">Maps and modeling 12/05/2024 by Oregon State University IPPC USPEST.ORG and</text><text x="909.6" y="190.6" font-size="29.7" text-anchor="middle">USDA-APHIS-PPQ; climate data from OSU PRISM Climate Group</text><text x="1762" y="456" font-size="28.8" font-weight="bold">Relative pop. size</text><rect x="1762" y="473" width="36" height="36" fill="#4d4d4d"/><text x="1812" y="498.9" font-size="24.0">excl.-severe</text><rect x="1762" y="509" width="36" height="36" fill="#b3b3b3"/><text x="1812" y="534.9" font-size="24.0">excl.-moderate</text><rect x="1762" y="545" width="36" height="36" fill="#1874cd"/><text x="1812" y="570.9" font-size="24.0">0-10</text><rect x="1762" y="581" width="36" height="36" fill="#4a8f9c"/><text x="1812" y="606.9" font-size="24.0">10-20</text><rect x="1762" y="617" width="36" height="36" fill="#7faf74"/><text x="1812" y="642.9" font-size="24.0">20-30</text><rect x="1762" y="653" width="36" height="36" fill="#b0cc48"/><text x="1812" y="678.9" font-size="24.0">30-40</text><rect x="1762" y="689" width="36" height="36" fill="#e6ee1a"/><text x="1812" y="714.9" font-size="24.0">40-50</text><rect x="1762" y="725" width="36" height="36" fill="#f8e000"/><text x="1812" y="750.9" font-size="24.0">50-60</text><rect x="1762" y="761" width="36" height="36" fill="#eeaa00"/><text x="1812" y="786.9" font-size="24.0">60-70</text><rect x="1762" y="797" width="36" height="36" fill="#e67300"/><text x="1812" y="822.9" font-size="24.0">70-80</text><rect x="1762" y="833" width="36" height="36" fill="#dc3a00"/><text x="1812" y="858.9" font-size="24.0">80-90</text><rect x="1762" y="869" width="36" height="36" fill="#cc0000"/><text x="1812" y="894.9" font-size="24.0">90-100</text></g></svg>
</body></html>
